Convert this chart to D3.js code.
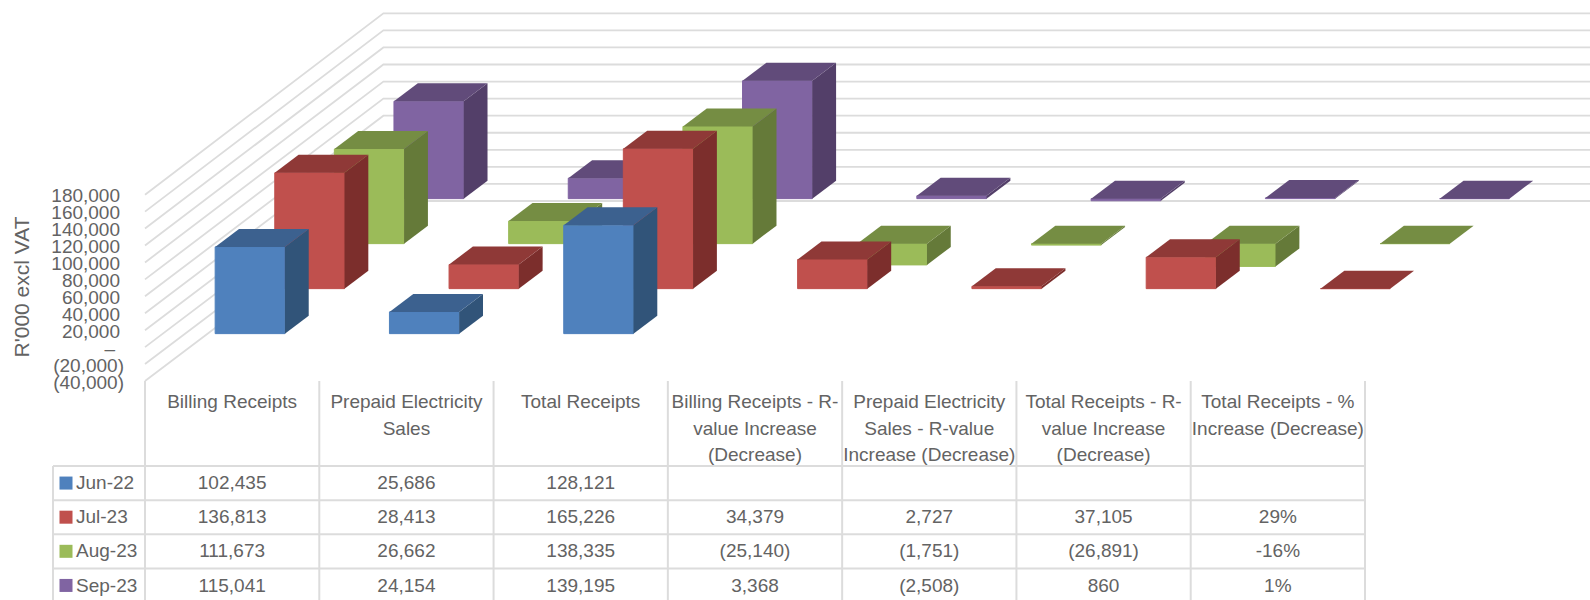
<!DOCTYPE html>
<html>
<head>
<meta charset="utf-8">
<title>Receipts</title>
<script src="https://cdn.jsdelivr.net/npm/d3@7"></script>
<style>
    html, body { margin: 0; padding: 0; background: #fff; overflow: hidden; }
    text { font-family: "Liberation Sans", Arial, sans-serif; fill: #636363; }
</style>
</head>
<body>
<div id="chart"></div>
<script>
// load in the values
var categories = [
    ["Billing Receipts"],
    ["Prepaid Electricity", "Sales"],
    ["Total Receipts"],
    ["Billing Receipts - R-", "value Increase", "(Decrease)"],
    ["Prepaid Electricity", "Sales - R-value", "Increase (Decrease)"],
    ["Total Receipts - R-", "value Increase", "(Decrease)"],
    ["Total Receipts - %", "Increase (Decrease)"]
];
var seriesNames = ["Jun-22", "Jul-23", "Aug-23", "Sep-23"];
var jun22 = [102435, 25686, 128121, null, null, null, null];
var jul23 = [136813, 28413, 165226, 34379, 2727, 37105, 0.29];
var aug23 = [111673, 26662, 138335, -25140, -1751, -26891, -0.16];
var sep23 = [115041, 24154, 139195, 3368, -2508, 860, 0.01];
var allSeries = [jun22, jul23, aug23, sep23];

var yTicks = [-40000, -20000, 0, 20000, 40000, 60000, 80000, 100000, 120000, 140000, 160000, 180000];
var yTickLabels = ["(40,000)", "(20,000)", "–", "20,000", "40,000", "60,000", "80,000", "100,000", "120,000", "140,000", "160,000", "180,000"];
var yTitle = "R'000 excl VAT";

var frontColors = ["#4f81bd", "#c0504d", "#9bbb59", "#8064a2"];
var topColors = ["#3c618f", "#8f3937", "#758d43", "#614b7a"];
var sideColors = ["#315479", "#7c2e2c", "#657a39", "#533f69"];

var width = 1590, height = 600;
var gridColor = "#dcdcdc";
var fontSize = 19;

// how far one full series step goes back into the picture
var depthX = 59.6, depthY = 45;

var svg = d3.select("#chart").append("svg")
    .attr("width", width)
    .attr("height", height)
    .style("display", "block");

var catIndex = d3.range(categories.length);

var x = d3.scaleBand()
    .domain(catIndex)
    .range([145, 1365])
    .paddingInner(0.6)
    .paddingOuter(0.3);

var depth = d3.scaleBand()
    .domain(d3.range(seriesNames.length))
    .range([0, seriesNames.length])
    .paddingInner(0.6)
    .paddingOuter(0.3);

var yFront = d3.scaleLinear().domain([-40000, 180000]).range([381, 194.7]);
var yBack = d3.scaleLinear().domain([-40000, 180000]).range([201, 13.3]);

// Gridlines: side wall then back wall
var backX = 145 + depthX * seriesNames.length;
svg.append("g").selectAll("path")
    .data(yTicks)
    .enter().append("path")
    .attr("d", function(d) {
        return d3.line()([[145, yFront(d)], [backX, yBack(d)], [width, yBack(d)]]);
    })
    .attr("fill", "none")
    .attr("stroke", gridColor)
    .attr("stroke-width", 1.8);

// Y axis
var yAxis = svg.append("g")
    .attr("transform", "translate(120,0)")
    .call(d3.axisLeft(yFront)
        .tickValues(yTicks)
        .tickSize(0)
        .tickPadding(0)
        .tickFormat(function(d) { return yTickLabels[yTicks.indexOf(d)]; }));
yAxis.select(".domain").remove();
yAxis.selectAll("text")
    .attr("font-size", fontSize)
    .attr("font-family", null)
    .attr("dy", "0.38em")
    .attr("dx", function(d) {
        if (d < 0) return 4;
        if (d == 0) return -5;
        return 0;
    });

svg.append("text")
    .attr("transform", "translate(29,287) rotate(-90)")
    .attr("text-anchor", "middle")
    .attr("font-size", 21)
    .text(yTitle);

// Bars, back series first so the front ones cover them
function bar(s, c, v) {
    var x0 = x(c) + depth(s) * depthX;
    var x1 = x0 + x.bandwidth();
    var dx = depth.bandwidth() * depthX;
    var dy = depth.bandwidth() * depthY;
    var shift = depth(s) * depthY;
    var yTop = yFront(Math.max(v, 0)) - shift;
    var yBase = yFront(Math.min(v, 0)) - shift;
    return {
        s: s,
        front: [[x0, yTop], [x1, yTop], [x1, yBase], [x0, yBase]],
        top: [[x0, yTop], [x1, yTop], [x1 + dx, yTop - dy], [x0 + dx, yTop - dy]],
        side: [[x1, yTop], [x1 + dx, yTop - dy], [x1 + dx, yBase - dy], [x1, yBase]]
    };
}

var polygon = function(pts) { return d3.line()(pts) + "Z"; };

d3.range(seriesNames.length).reverse().forEach(function(s) {
    var bars = catIndex
        .filter(function(c) { return allSeries[s][c] !== null; })
        .map(function(c) { return bar(s, c, allSeries[s][c]); });

    var g = svg.append("g").selectAll("g")
        .data(bars)
        .enter().append("g");

    g.append("path")
        .attr("d", function(d) { return polygon(d.front); })
        .attr("fill", frontColors[s])
        .attr("stroke", frontColors[s])
        .attr("stroke-width", 1);
    g.append("path")
        .attr("d", function(d) { return polygon(d.side); })
        .attr("fill", sideColors[s]);
    g.append("path")
        .attr("d", function(d) { return polygon(d.top); })
        .attr("fill", topColors[s]);
});

// Data table
var tableLeft = 53;
var rowTops = d3.scaleBand().domain(d3.range(seriesNames.length)).range([466, 602.5]);
var cellX = d3.scaleBand().domain(catIndex).range([145, 1365]);

var table = svg.append("g");

// vertical lines
cellX.domain().concat([categories.length]).forEach(function(i) {
    var lineX = i == categories.length ? 1365 : cellX(i);
    table.append("line")
        .attr("x1", lineX).attr("x2", lineX)
        .attr("y1", 381).attr("y2", height)
        .attr("stroke", gridColor).attr("stroke-width", 2);
});
table.append("line")
    .attr("x1", tableLeft).attr("x2", tableLeft)
    .attr("y1", 466).attr("y2", height)
    .attr("stroke", gridColor).attr("stroke-width", 2);

// horizontal lines
rowTops.domain().forEach(function(r) {
    table.append("line")
        .attr("x1", tableLeft).attr("x2", 1365)
        .attr("y1", rowTops(r)).attr("y2", rowTops(r))
        .attr("stroke", gridColor).attr("stroke-width", 2);
});

// header cells
categories.forEach(function(lines, i) {
    lines.forEach(function(line, n) {
        table.append("text")
            .attr("x", cellX(i) + cellX.bandwidth() / 2)
            .attr("y", 401.5 + n * 26.5)
            .attr("dy", "0.35em")
            .attr("text-anchor", "middle")
            .attr("font-size", fontSize)
            .text(line);
    });
});

function formatCell(v, c) {
    if (v === null) return "";
    if (c == categories.length - 1) return d3.format(".0%")(v).replace("−", "-");
    if (v < 0) return "(" + d3.format(",")(-v) + ")";
    return d3.format(",")(v);
}

// rows: colour key, series name and values
seriesNames.forEach(function(name, r) {
    var midY = rowTops(r) + rowTops.bandwidth() / 2;
    table.append("rect")
        .attr("x", 59.5).attr("y", midY - 6.5)
        .attr("width", 13).attr("height", 13)
        .attr("fill", frontColors[r]);
    table.append("text")
        .attr("x", 76).attr("y", midY - 0.5)
        .attr("dy", "0.35em")
        .attr("font-size", fontSize)
        .text(name);
    allSeries[r].forEach(function(v, c) {
        table.append("text")
            .attr("x", cellX(c) + cellX.bandwidth() / 2)
            .attr("y", midY - 0.5)
            .attr("dy", "0.35em")
            .attr("text-anchor", "middle")
            .attr("font-size", fontSize)
            .text(formatCell(v, c));
    });
});
</script>
</body>
</html>
